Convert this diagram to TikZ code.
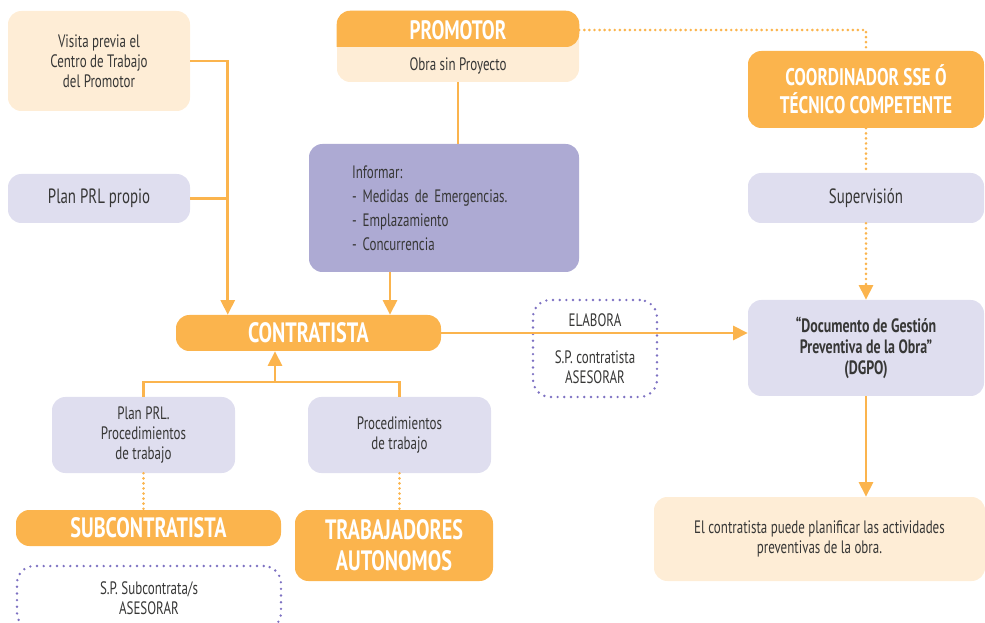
\documentclass[tikz,border=0pt]{standalone}
\usepackage{fontspec}
\setmainfont[FakeStretch=0.72]{PT Sans}
\usepackage{tikz}
\usetikzlibrary{arrows.meta}
\usepackage{color}
\definecolor{saffron}{RGB}{251, 180, 77}
\definecolor{cream}{RGB}{254, 237, 214}
\definecolor{lavender}{RGB}{223, 222, 239}
\definecolor{wisteria}{RGB}{173, 170, 211}
\definecolor{amethyst}{RGB}{125, 113, 194}
\definecolor{charcoal}{RGB}{55, 55, 54}

\tikzset{
  box/.style={rounded corners=10pt, align=center, inner sep=0pt, text=charcoal,
              font=\fontsize{13.5}{15}\selectfont},
  creambox/.style={box, fill=cream},
  lightbox/.style={box, fill=lavender},
  darkbox/.style={box, fill=wisteria},
  headbox/.style={box, fill=saffron, text=white, font=\fontsize{21}{23.5}\selectfont\bfseries},
  dotbox/.style={box, draw=amethyst, line width=2pt, dash pattern=on 0pt off 5pt, line cap=round, rounded corners=13pt},
  link/.style={draw=saffron, line width=2.2pt},
  arr/.style={link, -{Triangle[width=10.5pt,length=11pt]}},
  dotlink/.style={draw=saffron, line width=2.2pt, dash pattern=on 0pt off 3.8pt, line cap=round},
  dotarr/.style={dotlink, -{Triangle[width=10.5pt,length=11pt]}}
}

\begin{document}
\begin{tikzpicture}[x=0.75pt,y=-0.75pt]
\useasboundingbox (0,0) rectangle (985,623);

% left column
\node[creambox, minimum width=136.5pt, minimum height=75pt]    (visita)   at ( 99.0, 61.0) {Visita previa el\\Centro de Trabajo\\del Promotor};
\node[lightbox, minimum width=136.5pt, minimum height=36.75pt, font=\fontsize{15.5}{18}\selectfont] (planprop) at ( 99.0,198.5) {Plan PRL propio};

% promotor
\node[creambox, minimum width=181.5pt, minimum height=53.25pt] (promo)    at (458.0, 46.5) {};
\coordinate (promsplit) at (458,47);
\fill[saffron, rounded corners=10pt] (promo.west |- promsplit) |- (promo.north) -| (promo.east |- promsplit) [sharp corners] -- cycle;
\node[text=white, font=\fontsize{20}{22}\selectfont\bfseries] (promtit) at (458.0, 30.0) {PROMOTOR};
\node[text=charcoal, font=\fontsize{13.5}{15}\selectfont]       (promsub) at (458.0, 66.0) {Obra sin Proyecto};

\node[darkbox, minimum height=96pt, align=left, text width=138pt, inner xsep=32.25pt,
      font=\fontsize{13.5}{18}\selectfont] (informar) at (444.0,208.0)
      {Informar:\\- Medidas de Emergencias.\\- Emplazamiento\\- Concurrencia};

% right column
\node[headbox, minimum width=177pt, minimum height=57.75pt, font=\fontsize{18}{21}\selectfont\bfseries] (coord) at (866.0, 89.5) {COORDINADOR SSE Ó\\TÉCNICO COMPETENTE};
\node[lightbox, minimum width=177pt, minimum height=37.5pt, font=\fontsize{15.5}{18}\selectfont]          (superv) at (866.0,198.0) {Supervisión};
\node[lightbox, minimum width=177pt, minimum height=72pt, font=\fontsize{14.5}{15.5}\selectfont\bfseries]  (dgpo)   at (866.0,348.0) {“Documento de Gestión\\Preventiva de la Obra”\\(DGPO)};
\node[creambox, minimum width=248.25pt, minimum height=63pt]   (planif)   at (819.5,539.0) {El contratista puede planificar las actividades\\preventivas de la obra.};

% contratista
\node[headbox, minimum width=198.75pt, minimum height=27pt]    (contr)    at (308.5,333.0) {CONTRATISTA};
\node[dotbox, minimum width=93pt, minimum height=72.75pt]      (elabora)  at (595.0,348.5) {ELABORA\\[13pt]S.P. contratista\\ASESORAR};

% bottom
\node[lightbox, minimum width=137.25pt, minimum height=57pt]   (planprl)  at (143.5,435.0) {Plan PRL.\\Procedimientos\\de trabajo};
\node[lightbox, minimum width=137.25pt, minimum height=57pt]   (proced)   at (399.5,435.0) {Procedimientos\\de trabajo};
\node[headbox, minimum width=198.75pt, minimum height=27pt]    (subc)     at (148.5,528.0) {SUBCONTRATISTA};
\node[headbox, minimum width=148.5pt, minimum height=53.25pt]  (autonom)  at (394.0,545.5) {TRABAJADORES\\AUTONOMOS};
\node[dotbox, minimum width=198pt, minimum height=48pt]        (spsub)    at (149.0,598.0) {S.P. Subcontrata/s\\ASESORAR};

% connectors
\draw[arr]     (visita.east) -| ([xshift=39pt]contr.north west);
\draw[link]    (planprop.east) -- ++(27pt,0);
\draw[link]    (promo.south) -- (promo.south |- informar.north);
\draw[arr]     ([xshift=-40.5pt]informar.south) -- ([xshift=-40.5pt]informar.south |- contr.north);
\draw[dotlink] (promo.east |- promtit) -| (coord.north);
\draw[dotlink] (coord.south) -- (superv.north);
\draw[dotarr]  (superv.south) -- (dgpo.north);
\draw[arr]     (contr.east) -- (contr.east -| dgpo.west);
\draw[arr]     (dgpo.south) -- (dgpo.south |- planif.north);

\coordinate (junc) at (275,382);
\draw[link]    (planprl.north) |- (proced.north |- junc) -- (proced.north);
\draw[arr]     (junc) -- (junc |- contr.south);
\draw[dotlink] (planprl.south) -- (planprl.south |- subc.north);
\draw[dotlink] (proced.south) -- (proced.south |- autonom.north);
\end{tikzpicture}
\end{document}
